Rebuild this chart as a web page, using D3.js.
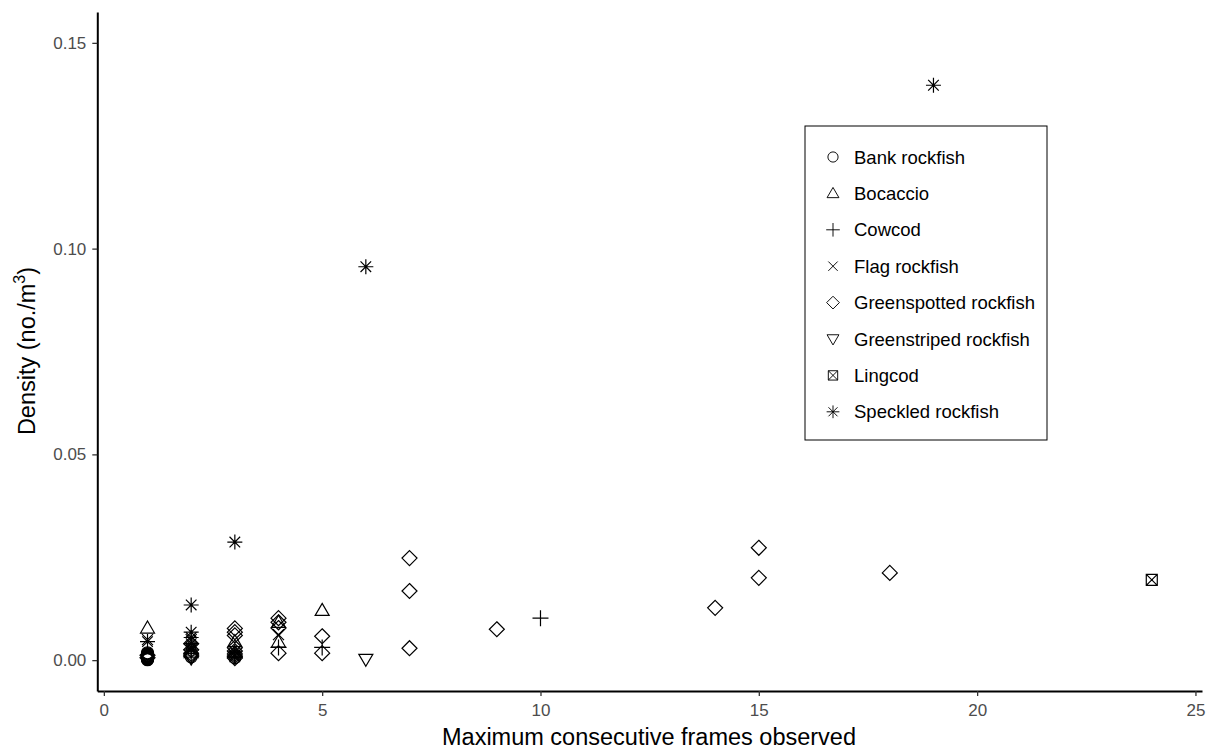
<!DOCTYPE html>
<html lang="en">
<head>
<meta charset="UTF-8">
<title>Density vs frames</title>
<script src="https://d3js.org/d3.v7.min.js"></script>
<style>
  body { margin: 0; background: #fff; }
  svg { font-family: "Liberation Sans", Arial, sans-serif; }
</style>
</head>
<body>
<div id="chart"></div>
<script>
// species and their [frames, density] points
const speciesNames = ["Bank rockfish", "Bocaccio", "Cowcod", "Flag rockfish",
  "Greenspotted rockfish", "Greenstriped rockfish", "Lingcod", "Speckled rockfish"];
const bankRockfish = [[1,0.0001],[1,0.0002],[1,0.0003],[1,0.0004],[1,0.0005],[1,0.0006],[1,0.0007],
  [1,0.0008],[1,0.0009],[1,0.0010],[1,0.0011],[1,0.0012],[1,0.0014],[1,0.0016],[1,0.0018],
  [2,0.0008],[3,0.0006]];
const bocaccio = [[1,0.0078],[2,0.0028],[2,0.0018],[3,0.0045],[3,0.0018],[4,0.0092],[4,0.0044],[5,0.0121]];
const cowcod = [[2,0.0010],[3,0.0008],[4,0.0031],[5,0.0031],[10,0.0102]];
const flagRockfish = [[1,0.0050],[2,0.0050],[2,0.0030],[3,0.0012],[4,0.0062]];
const greenspotted = [[1,0.0006],[1,0.0012],[2,0.0040],[2,0.0025],[2,0.0015],[2,0.0010],[3,0.0077],
  [3,0.0068],[3,0.0060],[3,0.0030],[3,0.0022],[3,0.0015],[3,0.0010],[3,0.0005],[4,0.0102],[4,0.0092],
  [4,0.0078],[4,0.0017],[5,0.0058],[5,0.0017],[7,0.0248],[7,0.0168],[7,0.0029],[9,0.0075],
  [14,0.0127],[15,0.0273],[15,0.0200],[18,0.0212]];
const greenstriped = [[2,0.0005],[6,0.0002]];
const lingcod = [[24,0.0195]];
const speckled = [[1,0.0045],[2,0.0134],[2,0.0068],[2,0.0055],[2,0.0040],[2,0.0025],[3,0.0287],
  [3,0.0020],[3,0.0008],[6,0.0956],[19,0.1397]];
const seriesPoints = [bankRockfish, bocaccio, cowcod, flagRockfish, greenspotted, greenstriped, lingcod, speckled];
const xTicks = [0, 5, 10, 15, 20, 25];
const yTicks = [0, 0.05, 0.10, 0.15];

const width = 1224, height = 753;
const svg = d3.select("#chart").append("svg").attr("width", width).attr("height", height);

const x = d3.scaleLinear().domain([-0.15, 25.15]).range([97.3, 1202]);
const y = d3.scaleLinear().domain([-0.0075, 0.1575]).range([691, 12]);

// shape paths, one per species (ggplot-like open symbols)
function shapePath(i) {
  const p = d3.path();
  switch (i) {
    case 0: p.moveTo(6, 0); p.arc(0, 0, 6, 0, 2 * Math.PI); break;
    case 1: p.moveTo(0, -7); p.lineTo(7, 5); p.lineTo(-7, 5); p.closePath(); break;
    case 2: p.moveTo(-8, 0); p.lineTo(8, 0); p.moveTo(0, -8); p.lineTo(0, 8); break;
    case 3: p.moveTo(-5.5, -5.5); p.lineTo(5.5, 5.5); p.moveTo(-5.5, 5.5); p.lineTo(5.5, -5.5); break;
    case 4: p.moveTo(0, -7.5); p.lineTo(7.5, 0); p.lineTo(0, 7.5); p.lineTo(-7.5, 0); p.closePath(); break;
    case 5: p.moveTo(0, 7); p.lineTo(7, -5); p.lineTo(-7, -5); p.closePath(); break;
    case 6: p.rect(-5.5, -5.5, 11, 11); p.moveTo(-5.5, -5.5); p.lineTo(5.5, 5.5);
            p.moveTo(-5.5, 5.5); p.lineTo(5.5, -5.5); break;
    case 7: p.moveTo(-7.5, 0); p.lineTo(7.5, 0); p.moveTo(0, -7.5); p.lineTo(0, 7.5);
            p.moveTo(-5.3, -5.3); p.lineTo(5.3, 5.3); p.moveTo(-5.3, 5.3); p.lineTo(5.3, -5.3); break;
  }
  return p.toString();
}

// axes
const xAxis = svg.append("g").attr("transform", "translate(0,691)")
  .call(d3.axisBottom(x).tickValues(xTicks).tickSizeInner(5).tickSizeOuter(0).tickPadding(8)
    .tickFormat(d3.format("d")));
const yAxis = svg.append("g").attr("transform", "translate(97.3,0)")
  .call(d3.axisLeft(y).tickValues(yTicks).tickSizeInner(5).tickSizeOuter(0).tickPadding(6)
    .tickFormat(d3.format(".2f")));
[xAxis, yAxis].forEach(a => {
  a.select(".domain").attr("stroke", "#000").attr("stroke-width", 2);
  a.selectAll(".tick line").attr("stroke", "#333").attr("stroke-width", 1.3);
  a.selectAll(".tick text").attr("fill", "#4d4d4d").attr("font-size", 17)
    .attr("font-family", "Liberation Sans, Arial, sans-serif");
});

// points
seriesPoints.forEach((pts, i) => {
  svg.append("g").selectAll("path").data(pts).enter().append("path")
    .attr("transform", d => "translate(" + x(d[0]) + "," + y(d[1]) + ")")
    .attr("d", shapePath(i))
    .attr("fill", "none")
    .attr("stroke", "#000")
    .attr("stroke-width", 1.2);
});

// axis titles
svg.append("text").attr("x", 649).attr("y", 745).attr("text-anchor", "middle")
  .attr("font-size", 23.5).attr("fill", "#000").text("Maximum consecutive frames observed");
const yt = svg.append("text").attr("transform", "translate(35,351) rotate(-90)")
  .attr("text-anchor", "middle").attr("font-size", 23.5).attr("fill", "#000");
yt.append("tspan").text("Density (no./m");
yt.append("tspan").attr("font-size", 16).attr("dy", -10).text("3");
yt.append("tspan").attr("dy", 10).text(")");

// legend
const legend = svg.append("g").attr("transform", "translate(805,126)");
legend.append("rect").attr("width", 242).attr("height", 314)
  .attr("fill", "#fff").attr("stroke", "#000").attr("stroke-width", 1);
speciesNames.forEach((name, i) => {
  const row = legend.append("g").attr("transform", "translate(28," + (31 + i * 36.4) + ")");
  row.append("path").attr("d", shapePath(i)).attr("fill", "none")
    .attr("stroke", "#000").attr("stroke-width", 1.1)
    .attr("transform", "scale(0.85)");
  row.append("text").attr("x", 21).attr("y", 6.5).attr("font-size", 18.5).attr("fill", "#000").text(name);
});
</script>
</body>
</html>
